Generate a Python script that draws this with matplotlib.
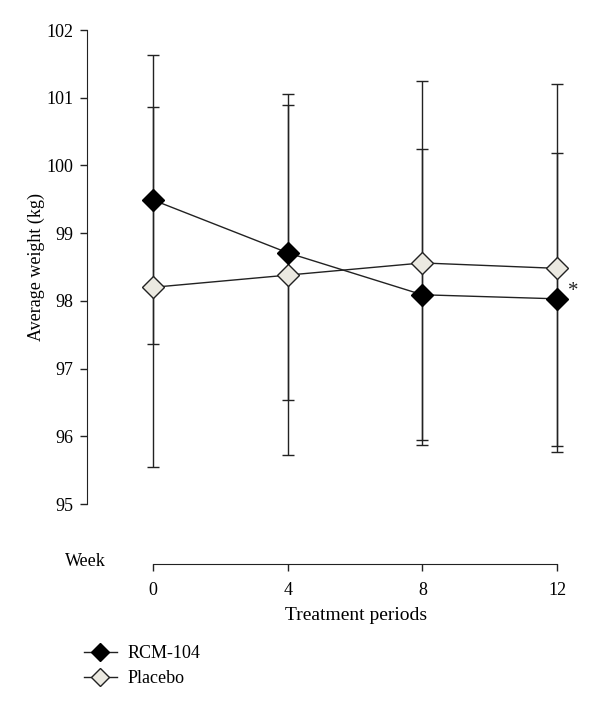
import matplotlib
matplotlib.use("Agg")
import matplotlib.pyplot as plt
from matplotlib.lines import Line2D

plt.rcParams['font.family'] = ['Liberation Serif', 'DejaVu Serif']

weeks = [0, 4, 8, 12]
tick_labels = ['0', '4', '8', '12']

rcm_mean = [99.49, 98.71, 98.09, 98.03]
rcm_low = [97.36, 96.53, 95.94, 95.85]
rcm_high = [101.63, 100.89, 100.24, 100.18]

placebo_mean = [98.2, 98.38, 98.56, 98.48]
placebo_low = [95.54, 95.73, 95.87, 95.77]
placebo_high = [100.87, 101.05, 101.25, 101.2]

ink = '#222222'
placebo_fill = '#ebe9e1'
fs = 13

fig = plt.figure(figsize=(6.0, 7.12), dpi=100)

# main panel: pixel extents x 87..590, y 30..504
ax = fig.add_axes([87/600, 1 - 504/712, (590 - 87)/600, 474/712])
pxw = (557 - 153) / 12.0
ax.set_xlim(-(153 - 87)/pxw, (590 - 153)/pxw)
ax.set_ylim(95, 102)

for mean, lo, hi in [(rcm_mean, rcm_low, rcm_high), (placebo_mean, placebo_low, placebo_high)]:
    err = [[m - l for m, l in zip(mean, lo)], [h - m for m, h in zip(mean, hi)]]
    ax.errorbar(weeks, mean, yerr=err, fmt='none', ecolor=ink, elinewidth=1.0,
                capsize=4, capthick=1.0, zorder=1)

ax.plot(weeks, placebo_mean, color=ink, lw=1.0, marker='D', ms=11,
        mfc=placebo_fill, mec=ink, mew=1.0, zorder=3)
ax.plot(weeks, rcm_mean, color=ink, lw=1.0, marker='D', ms=11,
        mfc='black', mec='black', mew=1.0, zorder=4)

ax.annotate('*', (weeks[-1], rcm_mean[-1]), xytext=(12, 5), textcoords='offset points',
            fontsize=fs + 2, color=ink, ha='center', va='center')

for s in ['top', 'right', 'bottom']:
    ax.spines[s].set_visible(False)
ax.spines['left'].set_color(ink)
ax.set_xticks([])
ax.set_yticks(range(95, 103))
ax.tick_params(axis='y', direction='out', length=5, width=1.0, color=ink,
               labelsize=fs, pad=5)
ax.set_ylabel('Average weight (kg)', fontsize=fs, labelpad=1)

# detached week axis below
ax2 = fig.add_axes([87/600, 1 - 564/712, (590 - 87)/600, 0.001])
ax2.set_xlim(ax.get_xlim())
for s in ['top', 'right', 'left']:
    ax2.spines[s].set_visible(False)
ax2.spines['bottom'].set_bounds(0, 12)
ax2.spines['bottom'].set_color(ink)
ax2.set_yticks([])
ax2.set_xticks(weeks)
ax2.set_xticklabels(tick_labels)
ax2.tick_params(axis='x', direction='out', length=5, width=1.0, color=ink,
                labelsize=fs, pad=8)
ax2.set_xlabel('Treatment periods', fontsize=fs + 1, labelpad=6)
ax2.xaxis.label.set_x((356 - 87) / (590 - 87))
fig.text(85/600, 1 - 562/712, 'Week', fontsize=fs, ha='center', va='center')

handles = [
    Line2D([], [], color=ink, lw=1.0, marker='D', ms=9, mfc='black', mec='black'),
    Line2D([], [], color=ink, lw=1.0, marker='D', ms=9, mfc=placebo_fill, mec=ink),
]
fig.legend(handles, ['RCM-104', 'Placebo'], loc='upper left',
           bbox_to_anchor=(84/600, 1 - 645/712), frameon=False, fontsize=fs,
           handlelength=1.8, handletextpad=0.6, labelspacing=0.45, borderpad=0,
           borderaxespad=0)

fig.savefig('out.png', dpi=100)
